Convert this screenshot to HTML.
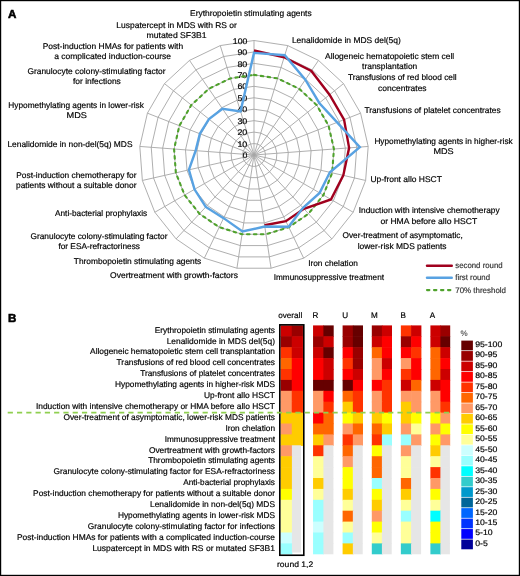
<!DOCTYPE html><html><head><meta charset="utf-8"><style>html,body{margin:0;padding:0;background:#fff}svg{display:block;will-change:transform}text{font-family:"Liberation Sans",sans-serif;fill:#000;stroke:#000;stroke-width:0.18px;text-rendering:geometricPrecision}</style></head><body>
<svg width="520" height="576" viewBox="0 0 520 576">
<rect x="0" y="0" width="520" height="576" fill="#fff"/>
<g stroke="#a6a6a6" stroke-width="0.9"><polygon points="254.00,143.55 257.37,144.06 260.45,145.54 262.95,147.86 264.66,150.82 265.42,154.14 265.16,157.55 263.92,160.72 261.79,163.39 258.97,165.32 255.71,166.32 252.29,166.32 249.03,165.32 246.21,163.39 244.08,160.72 242.84,157.55 242.58,154.14 243.34,150.82 245.05,147.86 247.55,145.54 250.63,144.06" fill="none"/><polygon points="254.00,132.10 260.75,133.12 266.90,136.08 271.90,140.72 275.32,146.63 276.84,153.29 276.33,160.10 273.83,166.45 269.58,171.79 263.94,175.63 257.41,177.64 250.59,177.64 244.06,175.63 238.42,171.79 234.17,166.45 231.67,160.10 231.16,153.29 232.68,146.63 236.10,140.72 241.10,136.08 247.25,133.12" fill="none"/><polygon points="254.00,120.65 264.12,122.18 273.35,126.62 280.86,133.58 285.98,142.45 288.25,152.43 287.49,162.64 283.75,172.18 277.36,180.18 268.90,185.95 259.12,188.97 248.88,188.97 239.10,185.95 230.64,180.18 224.25,172.18 220.51,162.64 219.75,152.43 222.02,142.45 227.14,133.58 234.65,126.62 243.88,122.18" fill="none"/><polygon points="254.00,109.20 267.50,111.23 279.80,117.16 289.81,126.44 296.63,138.27 299.67,151.58 298.65,165.19 293.66,177.90 285.15,188.57 273.87,196.26 260.83,200.29 247.17,200.29 234.13,196.26 222.85,188.57 214.34,177.90 209.35,165.19 208.33,151.58 211.37,138.27 218.19,126.44 228.20,117.16 240.50,111.23" fill="none"/><polygon points="254.00,97.75 270.87,100.29 286.25,107.70 298.76,119.31 307.29,134.08 311.09,150.72 309.81,167.74 303.58,183.62 292.94,196.97 278.84,206.58 262.53,211.61 245.47,211.61 229.16,206.58 215.06,196.97 204.42,183.62 198.19,167.74 196.91,150.72 200.71,134.08 209.24,119.31 221.75,107.70 237.13,100.29" fill="none"/><polygon points="254.00,86.30 274.25,89.35 292.70,98.24 307.71,112.17 317.95,129.90 322.51,149.87 320.98,170.29 313.50,189.35 300.73,205.36 283.81,216.90 264.24,222.93 243.76,222.93 224.19,216.90 207.27,205.36 194.50,189.35 187.02,170.29 185.49,149.87 190.05,129.90 200.29,112.17 215.30,98.24 233.75,89.35" fill="none"/><polygon points="254.00,74.85 277.62,78.41 299.15,88.78 316.66,105.03 328.61,125.72 333.93,149.01 332.14,172.84 323.41,195.07 308.52,213.75 288.78,227.21 265.95,234.25 242.05,234.25 219.22,227.21 199.48,213.75 184.59,195.07 175.86,172.84 174.07,149.01 179.39,125.72 191.34,105.03 208.85,88.78 230.38,78.41" fill="none"/><polygon points="254.00,63.40 281.00,67.47 305.60,79.32 325.62,97.89 339.27,121.53 345.34,148.15 343.30,175.38 333.33,200.80 316.30,222.15 293.74,237.53 267.65,245.58 240.35,245.58 214.26,237.53 191.70,222.15 174.67,200.80 164.70,175.38 162.66,148.15 168.73,121.53 182.38,97.89 202.40,79.32 227.00,67.47" fill="none"/><polygon points="254.00,51.95 284.37,56.53 312.05,69.86 334.57,90.75 349.93,117.35 356.76,147.30 354.47,177.93 343.24,206.52 324.09,230.54 298.71,247.84 269.36,256.90 238.64,256.90 209.29,247.84 183.91,230.54 164.76,206.52 153.53,177.93 151.24,147.30 158.07,117.35 173.43,90.75 195.95,69.86 223.63,56.53" fill="none"/><polygon points="254.00,40.50 287.75,45.59 318.50,60.40 343.52,83.61 360.59,113.17 368.18,146.44 365.63,180.48 353.16,212.25 331.88,238.93 303.68,258.16 271.07,268.22 236.93,268.22 204.32,258.16 176.12,238.93 154.84,212.25 142.37,180.48 139.82,146.44 147.41,113.17 164.48,83.61 189.50,60.40 220.25,45.59" fill="none"/><line x1="254.0" y1="155.0" x2="254.00" y2="40.50"/><line x1="254.0" y1="155.0" x2="287.75" y2="45.59"/><line x1="254.0" y1="155.0" x2="318.50" y2="60.40"/><line x1="254.0" y1="155.0" x2="343.52" y2="83.61"/><line x1="254.0" y1="155.0" x2="360.59" y2="113.17"/><line x1="254.0" y1="155.0" x2="368.18" y2="146.44"/><line x1="254.0" y1="155.0" x2="365.63" y2="180.48"/><line x1="254.0" y1="155.0" x2="353.16" y2="212.25"/><line x1="254.0" y1="155.0" x2="331.88" y2="238.93"/><line x1="254.0" y1="155.0" x2="303.68" y2="258.16"/><line x1="254.0" y1="155.0" x2="271.07" y2="268.22"/><line x1="254.0" y1="155.0" x2="236.93" y2="268.22"/><line x1="254.0" y1="155.0" x2="204.32" y2="258.16"/><line x1="254.0" y1="155.0" x2="176.12" y2="238.93"/><line x1="254.0" y1="155.0" x2="154.84" y2="212.25"/><line x1="254.0" y1="155.0" x2="142.37" y2="180.48"/><line x1="254.0" y1="155.0" x2="139.82" y2="146.44"/><line x1="254.0" y1="155.0" x2="147.41" y2="113.17"/><line x1="254.0" y1="155.0" x2="164.48" y2="83.61"/><line x1="254.0" y1="155.0" x2="189.50" y2="60.40"/><line x1="254.0" y1="155.0" x2="220.25" y2="45.59"/></g>
<text x="247.3" y="158.10" font-size="8.2" text-anchor="end" textLength="4.6" lengthAdjust="spacingAndGlyphs">0</text>
<text x="247.3" y="146.65" font-size="8.2" text-anchor="end" textLength="9.9" lengthAdjust="spacingAndGlyphs">10</text>
<text x="247.3" y="135.20" font-size="8.2" text-anchor="end" textLength="9.9" lengthAdjust="spacingAndGlyphs">20</text>
<text x="247.3" y="123.75" font-size="8.2" text-anchor="end" textLength="9.9" lengthAdjust="spacingAndGlyphs">30</text>
<text x="247.3" y="112.30" font-size="8.2" text-anchor="end" textLength="9.9" lengthAdjust="spacingAndGlyphs">40</text>
<text x="247.3" y="100.85" font-size="8.2" text-anchor="end" textLength="9.9" lengthAdjust="spacingAndGlyphs">50</text>
<text x="247.3" y="89.40" font-size="8.2" text-anchor="end" textLength="9.9" lengthAdjust="spacingAndGlyphs">60</text>
<text x="247.3" y="77.95" font-size="8.2" text-anchor="end" textLength="9.9" lengthAdjust="spacingAndGlyphs">70</text>
<text x="247.3" y="66.50" font-size="8.2" text-anchor="end" textLength="9.9" lengthAdjust="spacingAndGlyphs">80</text>
<text x="247.3" y="55.05" font-size="8.2" text-anchor="end" textLength="9.9" lengthAdjust="spacingAndGlyphs">90</text>
<text x="247.3" y="43.60" font-size="8.2" text-anchor="end" textLength="14.5" lengthAdjust="spacingAndGlyphs">100</text>
<polygon points="254.00,74.85 277.62,78.41 299.15,88.78 316.66,105.03 328.61,125.72 333.93,149.01 332.14,172.84 323.41,195.07 308.52,213.75 288.78,227.21 265.95,234.25 242.05,234.25 219.22,227.21 199.48,213.75 184.59,195.07 175.86,172.84 174.07,149.01 179.39,125.72 191.34,105.03 208.85,88.78 230.38,78.41" fill="none" stroke="#4fa22c" stroke-width="2.1" stroke-dasharray="2.5 4.4" stroke-linecap="round"/>
<polyline points="254.00,50.46 284.14,57.29 311.34,70.90 329.55,94.75 344.06,119.65 349.11,147.87 343.30,175.38 330.95,199.43 303.92,208.80 285.84,221.13 264.58,225.20" fill="none" stroke="#a0001e" stroke-width="2.4" stroke-linejoin="miter"/>
<polygon points="254.00,52.87 284.78,55.22 305.34,79.69 319.26,102.96 337.14,122.37 359.84,147.07 329.91,172.33 319.64,192.90 303.06,207.88 288.58,226.80 264.79,226.56 242.48,231.42 223.60,218.13 205.79,206.96 194.50,189.35 188.92,169.85 195.65,150.63 199.85,133.75 208.97,119.09 222.46,108.74 240.53,111.34" fill="none" stroke="#58a2e2" stroke-width="2.4" stroke-linejoin="miter"/>
<text x="190.10" y="15.75" font-size="8.3" textLength="121.55" lengthAdjust="spacingAndGlyphs">Erythropoietin stimulating agents</text>
<text x="116.30" y="28.20" font-size="8.3" textLength="120.60" lengthAdjust="spacingAndGlyphs">Luspatercept in MDS with RS or</text>
<text x="146.50" y="38.20" font-size="8.3" textLength="60.00" lengthAdjust="spacingAndGlyphs">mutated SF3B1</text>
<text x="42.70" y="49.00" font-size="8.3" textLength="140.40" lengthAdjust="spacingAndGlyphs">Post-induction HMAs for patients with</text>
<text x="54.20" y="58.80" font-size="8.3" textLength="116.80" lengthAdjust="spacingAndGlyphs">a complicated induction-course</text>
<text x="27.40" y="73.50" font-size="8.3" textLength="138.10" lengthAdjust="spacingAndGlyphs">Granulocyte colony-stimulating factor</text>
<text x="73.00" y="83.60" font-size="8.3" textLength="47.80" lengthAdjust="spacingAndGlyphs">for infections</text>
<text x="8.30" y="108.00" font-size="8.3" textLength="135.50" lengthAdjust="spacingAndGlyphs">Hypomethylating agents in lower-risk</text>
<text x="66.50" y="118.00" font-size="8.3" textLength="20.40" lengthAdjust="spacingAndGlyphs">MDS</text>
<text x="7.40" y="147.30" font-size="8.3" textLength="125.10" lengthAdjust="spacingAndGlyphs">Lenalidomide in non-del(5q) MDS</text>
<text x="16.30" y="178.00" font-size="8.3" textLength="120.20" lengthAdjust="spacingAndGlyphs">Post-induction chemotherapy for</text>
<text x="16.00" y="188.00" font-size="8.3" textLength="120.50" lengthAdjust="spacingAndGlyphs">patients without a suitable donor</text>
<text x="55.00" y="215.90" font-size="8.3" textLength="92.20" lengthAdjust="spacingAndGlyphs">Anti-bacterial prophylaxis</text>
<text x="30.50" y="238.90" font-size="8.3" textLength="136.90" lengthAdjust="spacingAndGlyphs">Granulocyte colony-stimulating factor</text>
<text x="58.40" y="248.50" font-size="8.3" textLength="81.60" lengthAdjust="spacingAndGlyphs">for ESA-refractoriness</text>
<text x="73.80" y="264.10" font-size="8.3" textLength="127.40" lengthAdjust="spacingAndGlyphs">Thrombopoietin stimulating agents</text>
<text x="110.10" y="278.30" font-size="8.3" textLength="127.80" lengthAdjust="spacingAndGlyphs">Overtreatment with growth-factors</text>
<text x="291.90" y="42.60" font-size="8.3" textLength="108.90" lengthAdjust="spacingAndGlyphs">Lenalidomide in MDS del(5q)</text>
<text x="325.10" y="58.80" font-size="8.3" textLength="129.10" lengthAdjust="spacingAndGlyphs">Allogeneic hematopoietic stem cell</text>
<text x="362.10" y="69.00" font-size="8.3" textLength="55.20" lengthAdjust="spacingAndGlyphs">transplantation</text>
<text x="347.90" y="79.80" font-size="8.3" textLength="108.80" lengthAdjust="spacingAndGlyphs">Transfusions of red blood cell</text>
<text x="378.10" y="90.50" font-size="8.3" textLength="48.50" lengthAdjust="spacingAndGlyphs">concentrates</text>
<text x="364.40" y="112.80" font-size="8.3" textLength="136.20" lengthAdjust="spacingAndGlyphs">Transfusions of platelet concentrates</text>
<text x="374.40" y="143.80" font-size="8.3" textLength="138.30" lengthAdjust="spacingAndGlyphs">Hypomethylating agents in higher-risk</text>
<text x="433.40" y="154.00" font-size="8.3" textLength="20.20" lengthAdjust="spacingAndGlyphs">MDS</text>
<text x="370.40" y="182.30" font-size="8.3" textLength="71.50" lengthAdjust="spacingAndGlyphs">Up-front allo HSCT</text>
<text x="358.80" y="212.90" font-size="8.3" textLength="140.80" lengthAdjust="spacingAndGlyphs">Induction with intensive chemotherapy</text>
<text x="380.40" y="223.70" font-size="8.3" textLength="96.80" lengthAdjust="spacingAndGlyphs">or HMA before allo HSCT</text>
<text x="342.50" y="238.00" font-size="8.3" textLength="120.20" lengthAdjust="spacingAndGlyphs">Over-treatment of asymptomatic,</text>
<text x="357.70" y="249.00" font-size="8.3" textLength="88.90" lengthAdjust="spacingAndGlyphs">lower-risk MDS patients</text>
<text x="308.20" y="265.80" font-size="8.3" textLength="49.70" lengthAdjust="spacingAndGlyphs">Iron chelation</text>
<text x="273.70" y="279.70" font-size="8.3" textLength="110.30" lengthAdjust="spacingAndGlyphs">Immunosuppressive treatment</text>
<text x="8.0" y="18.1" font-size="11.6" font-weight="bold" style="stroke-width:0.55px">A</text>
<text x="8.0" y="321.8" font-size="11.6" font-weight="bold" style="stroke-width:0.55px">B</text>
<line x1="427" y1="265.7" x2="451.8" y2="265.7" stroke="#a0001e" stroke-width="2.4" stroke-linecap="round"/>
<line x1="427" y1="277.8" x2="451.8" y2="277.8" stroke="#58a2e2" stroke-width="2.4" stroke-linecap="round"/>
<line x1="427" y1="290.1" x2="452.5" y2="290.1" stroke="#4fa22c" stroke-width="2.1" stroke-dasharray="2.4 4.6" stroke-linecap="round"/>
<text x="455.3" y="268.3" font-size="8" textLength="47.300000000000004" lengthAdjust="spacingAndGlyphs" style="fill:#333;stroke:#333">second round</text>
<text x="455.3" y="280.1" font-size="8" textLength="34.7" lengthAdjust="spacingAndGlyphs" style="fill:#333;stroke:#333">first round</text>
<text x="455.3" y="292.7" font-size="8" textLength="50.7" lengthAdjust="spacingAndGlyphs" style="fill:#333;stroke:#333">70% threshold</text>
<text x="275" y="332.60" font-size="8.3" text-anchor="end" textLength="120.30" lengthAdjust="spacingAndGlyphs">Erythropoietin stimulating agents</text>
<text x="275" y="343.50" font-size="8.3" text-anchor="end" textLength="108.30" lengthAdjust="spacingAndGlyphs">Lenalidomide in MDS del(5q)</text>
<text x="275" y="354.40" font-size="8.3" text-anchor="end" textLength="184.90" lengthAdjust="spacingAndGlyphs">Allogeneic hematopoietic stem cell transplantation</text>
<text x="275" y="365.30" font-size="8.3" text-anchor="end" textLength="158.40" lengthAdjust="spacingAndGlyphs">Transfusions of red blood cell concentrates</text>
<text x="275" y="376.20" font-size="8.3" text-anchor="end" textLength="134.80" lengthAdjust="spacingAndGlyphs">Transfusions of platelet concentrates</text>
<text x="275" y="387.10" font-size="8.3" text-anchor="end" textLength="160.00" lengthAdjust="spacingAndGlyphs">Hypomethylating agents in higher-risk MDS</text>
<text x="275" y="398.00" font-size="8.3" text-anchor="end" textLength="71.10" lengthAdjust="spacingAndGlyphs">Up-front allo HSCT</text>
<text x="275" y="408.90" font-size="8.3" text-anchor="end" textLength="239.05" lengthAdjust="spacingAndGlyphs">Induction with intensive chemotherapy or HMA before allo HSCT</text>
<text x="275" y="419.80" font-size="8.3" text-anchor="end" textLength="211.55" lengthAdjust="spacingAndGlyphs">Over-treatment of asymptomatic, lower-risk MDS patients</text>
<text x="275" y="430.70" font-size="8.3" text-anchor="end" textLength="49.60" lengthAdjust="spacingAndGlyphs">Iron chelation</text>
<text x="275" y="441.60" font-size="8.3" text-anchor="end" textLength="110.30" lengthAdjust="spacingAndGlyphs">Immunosuppressive treatment</text>
<text x="275" y="452.50" font-size="8.3" text-anchor="end" textLength="126.10" lengthAdjust="spacingAndGlyphs">Overtreatment with growth-factors</text>
<text x="275" y="463.40" font-size="8.3" text-anchor="end" textLength="126.80" lengthAdjust="spacingAndGlyphs">Thrombopoietin stimulating agents</text>
<text x="275" y="474.30" font-size="8.3" text-anchor="end" textLength="221.40" lengthAdjust="spacingAndGlyphs">Granulocyte colony-stimulating factor for ESA-refractoriness</text>
<text x="275" y="485.20" font-size="8.3" text-anchor="end" textLength="91.80" lengthAdjust="spacingAndGlyphs">Anti-bacterial prophylaxis</text>
<text x="275" y="496.10" font-size="8.3" text-anchor="end" textLength="241.90" lengthAdjust="spacingAndGlyphs">Post-induction chemotherapy for patients without a suitable donor</text>
<text x="275" y="507.00" font-size="8.3" text-anchor="end" textLength="125.00" lengthAdjust="spacingAndGlyphs">Lenalidomide in non-del(5q) MDS</text>
<text x="275" y="517.90" font-size="8.3" text-anchor="end" textLength="157.10" lengthAdjust="spacingAndGlyphs">Hypomethylating agents in lower-risk MDS</text>
<text x="275" y="528.80" font-size="8.3" text-anchor="end" textLength="187.20" lengthAdjust="spacingAndGlyphs">Granulocyte colony-stimulating factor for infections</text>
<text x="275" y="539.70" font-size="8.3" text-anchor="end" textLength="258.00" lengthAdjust="spacingAndGlyphs">Post-induction HMAs for patients with a complicated induction-course</text>
<text x="275" y="550.60" font-size="8.3" text-anchor="end" textLength="182.60" lengthAdjust="spacingAndGlyphs">Luspatercept in MDS with RS or mutated SF3B1</text>
<g><rect x="280.60" y="325.40" width="11.75" height="11.50" fill="#cc0000"/><rect x="291.75" y="325.40" width="11.20" height="11.50" fill="#990000"/><rect x="280.60" y="336.30" width="11.75" height="11.50" fill="#990000"/><rect x="291.75" y="336.30" width="11.20" height="11.50" fill="#cc0000"/><rect x="280.60" y="347.20" width="11.75" height="11.50" fill="#ff3300"/><rect x="291.75" y="347.20" width="11.20" height="11.50" fill="#cc0000"/><rect x="280.60" y="358.10" width="11.75" height="11.50" fill="#ff6600"/><rect x="291.75" y="358.10" width="11.20" height="11.50" fill="#ff0000"/><rect x="280.60" y="369.00" width="11.75" height="11.50" fill="#ff3300"/><rect x="291.75" y="369.00" width="11.20" height="11.50" fill="#ff0000"/><rect x="280.60" y="379.90" width="11.75" height="11.50" fill="#990000"/><rect x="291.75" y="379.90" width="11.20" height="11.50" fill="#ff0000"/><rect x="280.60" y="390.80" width="11.75" height="11.50" fill="#ff9966"/><rect x="291.75" y="390.80" width="11.20" height="11.50" fill="#ff3300"/><rect x="280.60" y="401.70" width="11.75" height="11.50" fill="#ff9966"/><rect x="291.75" y="401.70" width="11.20" height="11.50" fill="#ff3300"/><rect x="280.60" y="412.60" width="11.75" height="11.50" fill="#ffcc00"/><rect x="291.75" y="412.60" width="11.20" height="11.50" fill="#ffcc00"/><rect x="280.60" y="423.50" width="11.75" height="11.50" fill="#ff9966"/><rect x="291.75" y="423.50" width="11.20" height="11.50" fill="#ffcc00"/><rect x="280.60" y="434.40" width="11.75" height="11.50" fill="#ffcc00"/><rect x="291.75" y="434.40" width="11.20" height="11.50" fill="#ffcc00"/><rect x="280.60" y="445.30" width="11.75" height="11.50" fill="#ff9966"/><rect x="291.90" y="445.30" width="9.10" height="11.50" fill="#e6e6e6"/><rect x="280.60" y="456.20" width="11.75" height="11.50" fill="#ffcc00"/><rect x="291.90" y="456.20" width="9.10" height="11.50" fill="#e6e6e6"/><rect x="280.60" y="467.10" width="11.75" height="11.50" fill="#ffcc00"/><rect x="291.90" y="467.10" width="9.10" height="11.50" fill="#e6e6e6"/><rect x="280.60" y="478.00" width="11.75" height="11.50" fill="#ffcc00"/><rect x="291.90" y="478.00" width="9.10" height="11.50" fill="#e6e6e6"/><rect x="280.60" y="488.90" width="11.75" height="11.50" fill="#ffff00"/><rect x="291.90" y="488.90" width="9.10" height="11.50" fill="#e6e6e6"/><rect x="280.60" y="499.80" width="11.75" height="11.50" fill="#ffff99"/><rect x="291.90" y="499.80" width="9.10" height="11.50" fill="#e6e6e6"/><rect x="280.60" y="510.70" width="11.75" height="11.50" fill="#ffff99"/><rect x="291.90" y="510.70" width="9.10" height="11.50" fill="#e6e6e6"/><rect x="280.60" y="521.60" width="11.75" height="11.50" fill="#ffff99"/><rect x="291.90" y="521.60" width="9.10" height="11.50" fill="#e6e6e6"/><rect x="280.60" y="532.50" width="11.75" height="11.50" fill="#ccffff"/><rect x="291.90" y="532.50" width="9.10" height="11.50" fill="#e6e6e6"/><rect x="280.60" y="543.40" width="11.75" height="10.90" fill="#99ffff"/><rect x="291.90" y="543.40" width="9.10" height="9.10" fill="#e6e6e6"/><rect x="313.05" y="325.40" width="10.95" height="11.50" fill="#cc0000"/><rect x="323.40" y="325.40" width="10.30" height="11.50" fill="#660000"/><rect x="313.05" y="336.30" width="10.95" height="11.50" fill="#990000"/><rect x="323.40" y="336.30" width="10.30" height="11.50" fill="#cc0000"/><rect x="313.05" y="347.20" width="10.95" height="11.50" fill="#cc0000"/><rect x="323.40" y="347.20" width="10.30" height="11.50" fill="#660000"/><rect x="313.05" y="358.10" width="10.95" height="11.50" fill="#ff0000"/><rect x="323.40" y="358.10" width="10.30" height="11.50" fill="#cc0000"/><rect x="313.05" y="369.00" width="10.95" height="11.50" fill="#ff0000"/><rect x="323.40" y="369.00" width="10.30" height="11.50" fill="#cc0000"/><rect x="313.05" y="379.90" width="10.95" height="11.50" fill="#660000"/><rect x="323.40" y="379.90" width="10.30" height="11.50" fill="#660000"/><rect x="313.05" y="390.80" width="10.95" height="11.50" fill="#ff9966"/><rect x="323.40" y="390.80" width="10.30" height="11.50" fill="#ff0000"/><rect x="313.05" y="401.70" width="10.95" height="11.50" fill="#ff9966"/><rect x="323.40" y="401.70" width="10.30" height="11.50" fill="#ff3300"/><rect x="313.05" y="412.60" width="10.95" height="11.50" fill="#ff0000"/><rect x="323.40" y="412.60" width="10.30" height="11.50" fill="#ff6600"/><rect x="313.05" y="423.50" width="10.95" height="11.50" fill="#ff6600"/><rect x="323.40" y="423.50" width="10.30" height="11.50" fill="#ff6600"/><rect x="313.05" y="434.40" width="10.95" height="11.50" fill="#ffcc00"/><rect x="323.40" y="434.40" width="10.30" height="11.50" fill="#ff9966"/><rect x="313.05" y="445.30" width="10.95" height="11.50" fill="#ff3300"/><rect x="323.40" y="445.30" width="10.00" height="11.50" fill="#e6e6e6"/><rect x="313.05" y="456.20" width="10.95" height="11.50" fill="#ffff99"/><rect x="323.40" y="456.20" width="10.00" height="11.50" fill="#e6e6e6"/><rect x="313.05" y="467.10" width="10.95" height="11.50" fill="#ffff99"/><rect x="323.40" y="467.10" width="10.00" height="11.50" fill="#e6e6e6"/><rect x="313.05" y="478.00" width="10.95" height="11.50" fill="#ffcc00"/><rect x="323.40" y="478.00" width="10.00" height="11.50" fill="#e6e6e6"/><rect x="313.05" y="488.90" width="10.95" height="11.50" fill="#ffff99"/><rect x="323.40" y="488.90" width="10.00" height="11.50" fill="#e6e6e6"/><rect x="313.05" y="499.80" width="10.95" height="11.50" fill="#99ffff"/><rect x="323.40" y="499.80" width="10.00" height="11.50" fill="#e6e6e6"/><rect x="313.05" y="510.70" width="10.95" height="11.50" fill="#99ffff"/><rect x="323.40" y="510.70" width="10.00" height="11.50" fill="#e6e6e6"/><rect x="313.05" y="521.60" width="10.95" height="11.50" fill="#ccffff"/><rect x="323.40" y="521.60" width="10.00" height="11.50" fill="#e6e6e6"/><rect x="313.05" y="532.50" width="10.95" height="11.50" fill="#99ffff"/><rect x="323.40" y="532.50" width="10.00" height="11.50" fill="#e6e6e6"/><rect x="313.05" y="543.40" width="10.95" height="10.90" fill="#99ffff"/><rect x="323.40" y="543.40" width="10.00" height="10.90" fill="#e6e6e6"/><rect x="342.60" y="325.40" width="10.85" height="11.50" fill="#990000"/><rect x="352.85" y="325.40" width="10.15" height="11.50" fill="#660000"/><rect x="342.60" y="336.30" width="10.85" height="11.50" fill="#990000"/><rect x="352.85" y="336.30" width="10.15" height="11.50" fill="#660000"/><rect x="342.60" y="347.20" width="10.85" height="11.50" fill="#ff0000"/><rect x="352.85" y="347.20" width="10.15" height="11.50" fill="#990000"/><rect x="342.60" y="358.10" width="10.85" height="11.50" fill="#ff3300"/><rect x="352.85" y="358.10" width="10.15" height="11.50" fill="#990000"/><rect x="342.60" y="369.00" width="10.85" height="11.50" fill="#ff0000"/><rect x="352.85" y="369.00" width="10.15" height="11.50" fill="#cc0000"/><rect x="342.60" y="379.90" width="10.85" height="11.50" fill="#660000"/><rect x="352.85" y="379.90" width="10.15" height="11.50" fill="#ff0000"/><rect x="342.60" y="390.80" width="10.85" height="11.50" fill="#ff6600"/><rect x="352.85" y="390.80" width="10.15" height="11.50" fill="#ff3300"/><rect x="342.60" y="401.70" width="10.85" height="11.50" fill="#ffcc00"/><rect x="352.85" y="401.70" width="10.15" height="11.50" fill="#ff3300"/><rect x="342.60" y="412.60" width="10.85" height="11.50" fill="#ffff00"/><rect x="352.85" y="412.60" width="10.15" height="11.50" fill="#ffcc00"/><rect x="342.60" y="423.50" width="10.85" height="11.50" fill="#ff9966"/><rect x="352.85" y="423.50" width="10.15" height="11.50" fill="#ff6600"/><rect x="342.60" y="434.40" width="10.85" height="11.50" fill="#ff3300"/><rect x="352.85" y="434.40" width="10.15" height="11.50" fill="#ff9966"/><rect x="342.60" y="445.30" width="10.85" height="11.50" fill="#ff6600"/><rect x="352.85" y="445.30" width="9.85" height="11.50" fill="#e6e6e6"/><rect x="342.60" y="456.20" width="10.85" height="11.50" fill="#ff9966"/><rect x="352.85" y="456.20" width="9.85" height="11.50" fill="#e6e6e6"/><rect x="342.60" y="467.10" width="10.85" height="11.50" fill="#ffff00"/><rect x="352.85" y="467.10" width="9.85" height="11.50" fill="#e6e6e6"/><rect x="342.60" y="478.00" width="10.85" height="11.50" fill="#ffff00"/><rect x="352.85" y="478.00" width="9.85" height="11.50" fill="#e6e6e6"/><rect x="342.60" y="488.90" width="10.85" height="11.50" fill="#ffcc00"/><rect x="352.85" y="488.90" width="9.85" height="11.50" fill="#e6e6e6"/><rect x="342.60" y="499.80" width="10.85" height="11.50" fill="#ffff99"/><rect x="352.85" y="499.80" width="9.85" height="11.50" fill="#e6e6e6"/><rect x="342.60" y="510.70" width="10.85" height="11.50" fill="#ff6600"/><rect x="352.85" y="510.70" width="9.85" height="11.50" fill="#e6e6e6"/><rect x="342.60" y="521.60" width="10.85" height="11.50" fill="#ffff99"/><rect x="352.85" y="521.60" width="9.85" height="11.50" fill="#e6e6e6"/><rect x="342.60" y="532.50" width="10.85" height="11.50" fill="#99ffff"/><rect x="352.85" y="532.50" width="9.85" height="11.50" fill="#e6e6e6"/><rect x="342.60" y="543.40" width="10.85" height="10.90" fill="#ffcc00"/><rect x="352.85" y="543.40" width="9.85" height="10.90" fill="#e6e6e6"/><rect x="371.80" y="325.40" width="10.70" height="11.50" fill="#990000"/><rect x="381.90" y="325.40" width="10.10" height="11.50" fill="#cc0000"/><rect x="371.80" y="336.30" width="10.70" height="11.50" fill="#cc0000"/><rect x="381.90" y="336.30" width="10.10" height="11.50" fill="#ff0000"/><rect x="371.80" y="347.20" width="10.70" height="11.50" fill="#ff6600"/><rect x="381.90" y="347.20" width="10.10" height="11.50" fill="#ff0000"/><rect x="371.80" y="358.10" width="10.70" height="11.50" fill="#ff9966"/><rect x="381.90" y="358.10" width="10.10" height="11.50" fill="#cc0000"/><rect x="371.80" y="369.00" width="10.70" height="11.50" fill="#ff9966"/><rect x="381.90" y="369.00" width="10.10" height="11.50" fill="#ff0000"/><rect x="371.80" y="379.90" width="10.70" height="11.50" fill="#ff0000"/><rect x="381.90" y="379.90" width="10.10" height="11.50" fill="#ff3300"/><rect x="371.80" y="390.80" width="10.70" height="11.50" fill="#ff9966"/><rect x="381.90" y="390.80" width="10.10" height="11.50" fill="#ff3300"/><rect x="371.80" y="401.70" width="10.70" height="11.50" fill="#ff9966"/><rect x="381.90" y="401.70" width="10.10" height="11.50" fill="#ff3300"/><rect x="371.80" y="412.60" width="10.70" height="11.50" fill="#ffcc00"/><rect x="381.90" y="412.60" width="10.10" height="11.50" fill="#ffff00"/><rect x="371.80" y="423.50" width="10.70" height="11.50" fill="#ff6600"/><rect x="381.90" y="423.50" width="10.10" height="11.50" fill="#ffcc00"/><rect x="371.80" y="434.40" width="10.70" height="11.50" fill="#ff3300"/><rect x="381.90" y="434.40" width="10.10" height="11.50" fill="#99ffff"/><rect x="371.80" y="445.30" width="10.70" height="11.50" fill="#ffff00"/><rect x="381.90" y="445.30" width="9.80" height="11.50" fill="#e6e6e6"/><rect x="371.80" y="456.20" width="10.70" height="11.50" fill="#ff6600"/><rect x="381.90" y="456.20" width="9.80" height="11.50" fill="#e6e6e6"/><rect x="371.80" y="467.10" width="10.70" height="11.50" fill="#ff6600"/><rect x="381.90" y="467.10" width="9.80" height="11.50" fill="#e6e6e6"/><rect x="371.80" y="478.00" width="10.70" height="11.50" fill="#99ffff"/><rect x="381.90" y="478.00" width="9.80" height="11.50" fill="#e6e6e6"/><rect x="371.80" y="488.90" width="10.70" height="11.50" fill="#ffff00"/><rect x="381.90" y="488.90" width="9.80" height="11.50" fill="#e6e6e6"/><rect x="371.80" y="499.80" width="10.70" height="11.50" fill="#ffcc00"/><rect x="381.90" y="499.80" width="9.80" height="11.50" fill="#e6e6e6"/><rect x="371.80" y="510.70" width="10.70" height="11.50" fill="#ff9966"/><rect x="381.90" y="510.70" width="9.80" height="11.50" fill="#e6e6e6"/><rect x="371.80" y="521.60" width="10.70" height="11.50" fill="#ffff00"/><rect x="381.90" y="521.60" width="9.80" height="11.50" fill="#e6e6e6"/><rect x="371.80" y="532.50" width="10.70" height="11.50" fill="#ffff99"/><rect x="381.90" y="532.50" width="9.80" height="11.50" fill="#e6e6e6"/><rect x="371.80" y="543.40" width="10.70" height="10.90" fill="#33cccc"/><rect x="381.90" y="543.40" width="9.80" height="10.90" fill="#e6e6e6"/><rect x="400.85" y="325.40" width="10.85" height="11.50" fill="#ff3300"/><rect x="411.10" y="325.40" width="10.30" height="11.50" fill="#cc0000"/><rect x="400.85" y="336.30" width="10.85" height="11.50" fill="#990000"/><rect x="411.10" y="336.30" width="10.30" height="11.50" fill="#ff0000"/><rect x="400.85" y="347.20" width="10.85" height="11.50" fill="#ff0000"/><rect x="411.10" y="347.20" width="10.30" height="11.50" fill="#ff3300"/><rect x="400.85" y="358.10" width="10.85" height="11.50" fill="#ff9966"/><rect x="411.10" y="358.10" width="10.30" height="11.50" fill="#ff0000"/><rect x="400.85" y="369.00" width="10.85" height="11.50" fill="#ff3300"/><rect x="411.10" y="369.00" width="10.30" height="11.50" fill="#ff0000"/><rect x="400.85" y="379.90" width="10.85" height="11.50" fill="#cc0000"/><rect x="411.10" y="379.90" width="10.30" height="11.50" fill="#ff6600"/><rect x="400.85" y="390.80" width="10.85" height="11.50" fill="#ff9966"/><rect x="411.10" y="390.80" width="10.30" height="11.50" fill="#ff9966"/><rect x="400.85" y="401.70" width="10.85" height="11.50" fill="#ffcc00"/><rect x="411.10" y="401.70" width="10.30" height="11.50" fill="#ff9966"/><rect x="400.85" y="412.60" width="10.85" height="11.50" fill="#ffcc00"/><rect x="411.10" y="412.60" width="10.30" height="11.50" fill="#ffff00"/><rect x="400.85" y="423.50" width="10.85" height="11.50" fill="#ff9966"/><rect x="411.10" y="423.50" width="10.30" height="11.50" fill="#ffff99"/><rect x="400.85" y="434.40" width="10.85" height="11.50" fill="#99ffff"/><rect x="411.10" y="434.40" width="10.30" height="11.50" fill="#ff9966"/><rect x="400.85" y="445.30" width="10.85" height="11.50" fill="#ff9966"/><rect x="411.10" y="445.30" width="10.00" height="11.50" fill="#e6e6e6"/><rect x="400.85" y="456.20" width="10.85" height="11.50" fill="#ffff99"/><rect x="411.10" y="456.20" width="10.00" height="11.50" fill="#e6e6e6"/><rect x="400.85" y="467.10" width="10.85" height="11.50" fill="#ffff99"/><rect x="411.10" y="467.10" width="10.00" height="11.50" fill="#e6e6e6"/><rect x="400.85" y="478.00" width="10.85" height="11.50" fill="#ff6600"/><rect x="411.10" y="478.00" width="10.00" height="11.50" fill="#e6e6e6"/><rect x="400.85" y="488.90" width="10.85" height="11.50" fill="#ffcc00"/><rect x="411.10" y="488.90" width="10.00" height="11.50" fill="#e6e6e6"/><rect x="400.85" y="499.80" width="10.85" height="11.50" fill="#ffff99"/><rect x="411.10" y="499.80" width="10.00" height="11.50" fill="#e6e6e6"/><rect x="400.85" y="510.70" width="10.85" height="11.50" fill="#99ffff"/><rect x="411.10" y="510.70" width="10.00" height="11.50" fill="#e6e6e6"/><rect x="400.85" y="521.60" width="10.85" height="11.50" fill="#ffff99"/><rect x="411.10" y="521.60" width="10.00" height="11.50" fill="#e6e6e6"/><rect x="400.85" y="532.50" width="10.85" height="11.50" fill="#ffff99"/><rect x="411.10" y="532.50" width="10.00" height="11.50" fill="#e6e6e6"/><rect x="400.85" y="543.40" width="10.85" height="10.90" fill="#33cccc"/><rect x="411.10" y="543.40" width="10.00" height="10.90" fill="#e6e6e6"/><rect x="430.40" y="325.40" width="10.60" height="11.50" fill="#cc0000"/><rect x="440.40" y="325.40" width="9.80" height="11.50" fill="#990000"/><rect x="430.40" y="336.30" width="10.60" height="11.50" fill="#cc0000"/><rect x="440.40" y="336.30" width="9.80" height="11.50" fill="#660000"/><rect x="430.40" y="347.20" width="10.60" height="11.50" fill="#ff6600"/><rect x="440.40" y="347.20" width="9.80" height="11.50" fill="#cc0000"/><rect x="430.40" y="358.10" width="10.60" height="11.50" fill="#ff6600"/><rect x="440.40" y="358.10" width="9.80" height="11.50" fill="#ff0000"/><rect x="430.40" y="369.00" width="10.60" height="11.50" fill="#ff6600"/><rect x="440.40" y="369.00" width="9.80" height="11.50" fill="#cc0000"/><rect x="430.40" y="379.90" width="10.60" height="11.50" fill="#cc0000"/><rect x="440.40" y="379.90" width="9.80" height="11.50" fill="#ff0000"/><rect x="430.40" y="390.80" width="10.60" height="11.50" fill="#ff9966"/><rect x="440.40" y="390.80" width="9.80" height="11.50" fill="#ff0000"/><rect x="430.40" y="401.70" width="10.60" height="11.50" fill="#ff9966"/><rect x="440.40" y="401.70" width="9.80" height="11.50" fill="#ff3300"/><rect x="430.40" y="412.60" width="10.60" height="11.50" fill="#ffff00"/><rect x="440.40" y="412.60" width="9.80" height="11.50" fill="#ff9966"/><rect x="430.40" y="423.50" width="10.60" height="11.50" fill="#ff9966"/><rect x="440.40" y="423.50" width="9.80" height="11.50" fill="#ffff00"/><rect x="430.40" y="434.40" width="10.60" height="11.50" fill="#ffff00"/><rect x="440.40" y="434.40" width="9.80" height="11.50" fill="#ff9966"/><rect x="430.40" y="445.30" width="10.60" height="11.50" fill="#ffcc00"/><rect x="440.40" y="445.30" width="9.50" height="11.50" fill="#e6e6e6"/><rect x="430.40" y="456.20" width="10.60" height="11.50" fill="#ffff99"/><rect x="440.40" y="456.20" width="9.50" height="11.50" fill="#e6e6e6"/><rect x="430.40" y="467.10" width="10.60" height="11.50" fill="#ff3300"/><rect x="440.40" y="467.10" width="9.50" height="11.50" fill="#e6e6e6"/><rect x="430.40" y="478.00" width="10.60" height="11.50" fill="#ff9966"/><rect x="440.40" y="478.00" width="9.50" height="11.50" fill="#e6e6e6"/><rect x="430.40" y="488.90" width="10.60" height="11.50" fill="#ffff00"/><rect x="440.40" y="488.90" width="9.50" height="11.50" fill="#e6e6e6"/><rect x="430.40" y="499.80" width="10.60" height="11.50" fill="#ffff99"/><rect x="440.40" y="499.80" width="9.50" height="11.50" fill="#e6e6e6"/><rect x="430.40" y="510.70" width="10.60" height="11.50" fill="#00ffff"/><rect x="440.40" y="510.70" width="9.50" height="11.50" fill="#e6e6e6"/><rect x="430.40" y="521.60" width="10.60" height="11.50" fill="#ffff00"/><rect x="440.40" y="521.60" width="9.50" height="11.50" fill="#e6e6e6"/><rect x="430.40" y="532.50" width="10.60" height="11.50" fill="#ffff00"/><rect x="440.40" y="532.50" width="9.50" height="11.50" fill="#e6e6e6"/><rect x="430.40" y="543.40" width="10.60" height="10.90" fill="#33cccc"/><rect x="440.40" y="543.40" width="9.50" height="10.90" fill="#e6e6e6"/></g>
<rect x="279.8" y="324.85" width="24" height="230.4" fill="none" stroke="#000" stroke-width="1.6"/>
<text x="278.2" y="318.2" font-size="8.1" textLength="24.0" lengthAdjust="spacingAndGlyphs">overall</text>
<text x="312.4" y="318.2" font-size="8.1">R</text>
<text x="342.2" y="318.2" font-size="8.1">U</text>
<text x="371.0" y="318.2" font-size="8.1">M</text>
<text x="400.5" y="318.2" font-size="8.1">B</text>
<text x="429.8" y="318.2" font-size="8.1">A</text>
<text x="277.0" y="566.8" font-size="8.1" textLength="36.2" lengthAdjust="spacingAndGlyphs">round 1,2</text>
<line x1="7.7" y1="412.7" x2="450" y2="412.7" stroke="#8fcf50" stroke-width="1.7" stroke-dasharray="5.2 4.08"/>
<text x="460.5" y="336.3" font-size="8" style="fill:#444;stroke:#444;stroke-width:0.1px">%</text>
<rect x="461.3" y="340.60" width="11.6" height="9.75" fill="#660000"/>
<text x="475.2" y="347.00" font-size="8.0" textLength="27.09" lengthAdjust="spacingAndGlyphs">95-100</text>
<rect x="461.3" y="351.07" width="11.6" height="9.75" fill="#990000"/>
<text x="475.2" y="357.47" font-size="8.0" textLength="22.25" lengthAdjust="spacingAndGlyphs">90-95</text>
<rect x="461.3" y="361.54" width="11.6" height="9.75" fill="#cc0000"/>
<text x="475.2" y="367.94" font-size="8.0" textLength="22.25" lengthAdjust="spacingAndGlyphs">85-90</text>
<rect x="461.3" y="372.01" width="11.6" height="9.75" fill="#ff0000"/>
<text x="475.2" y="378.41" font-size="8.0" textLength="22.25" lengthAdjust="spacingAndGlyphs">80-85</text>
<rect x="461.3" y="382.48" width="11.6" height="9.75" fill="#ff3300"/>
<text x="475.2" y="388.88" font-size="8.0" textLength="22.25" lengthAdjust="spacingAndGlyphs">75-80</text>
<rect x="461.3" y="392.95" width="11.6" height="9.75" fill="#ff6600"/>
<text x="475.2" y="399.35" font-size="8.0" textLength="22.25" lengthAdjust="spacingAndGlyphs">70-75</text>
<rect x="461.3" y="403.42" width="11.6" height="9.75" fill="#ff9966"/>
<text x="475.2" y="409.82" font-size="8.0" textLength="22.25" lengthAdjust="spacingAndGlyphs">65-70</text>
<rect x="461.3" y="413.89" width="11.6" height="9.75" fill="#ffcc00"/>
<text x="475.2" y="420.29" font-size="8.0" textLength="22.25" lengthAdjust="spacingAndGlyphs">60-65</text>
<rect x="461.3" y="424.36" width="11.6" height="9.75" fill="#ffff00"/>
<text x="475.2" y="430.76" font-size="8.0" textLength="22.25" lengthAdjust="spacingAndGlyphs">55-60</text>
<rect x="461.3" y="434.83" width="11.6" height="9.75" fill="#ffff99"/>
<text x="475.2" y="441.23" font-size="8.0" textLength="22.25" lengthAdjust="spacingAndGlyphs">50-55</text>
<rect x="461.3" y="445.30" width="11.6" height="9.75" fill="#ccffff"/>
<text x="475.2" y="451.70" font-size="8.0" textLength="22.25" lengthAdjust="spacingAndGlyphs">45-50</text>
<rect x="461.3" y="455.77" width="11.6" height="9.75" fill="#99ffff"/>
<text x="475.2" y="462.17" font-size="8.0" textLength="22.25" lengthAdjust="spacingAndGlyphs">40-45</text>
<rect x="461.3" y="466.24" width="11.6" height="9.75" fill="#00ffff"/>
<text x="475.2" y="472.64" font-size="8.0" textLength="22.25" lengthAdjust="spacingAndGlyphs">35-40</text>
<rect x="461.3" y="476.71" width="11.6" height="9.75" fill="#33cccc"/>
<text x="475.2" y="483.11" font-size="8.0" textLength="22.25" lengthAdjust="spacingAndGlyphs">30-35</text>
<rect x="461.3" y="487.18" width="11.6" height="9.75" fill="#0099cc"/>
<text x="475.2" y="493.58" font-size="8.0" textLength="22.25" lengthAdjust="spacingAndGlyphs">25-30</text>
<rect x="461.3" y="497.65" width="11.6" height="9.75" fill="#006699"/>
<text x="475.2" y="504.05" font-size="8.0" textLength="22.25" lengthAdjust="spacingAndGlyphs">20-25</text>
<rect x="461.3" y="508.12" width="11.6" height="9.75" fill="#0066ff"/>
<text x="475.2" y="514.52" font-size="8.0" textLength="22.25" lengthAdjust="spacingAndGlyphs">15-20</text>
<rect x="461.3" y="518.59" width="11.6" height="9.75" fill="#0033ff"/>
<text x="475.2" y="524.99" font-size="8.0" textLength="22.25" lengthAdjust="spacingAndGlyphs">10-15</text>
<rect x="461.3" y="529.06" width="11.6" height="9.75" fill="#0000ff"/>
<text x="475.2" y="535.46" font-size="8.0" textLength="17.42" lengthAdjust="spacingAndGlyphs">5-10</text>
<rect x="461.3" y="539.53" width="11.6" height="9.75" fill="#000099"/>
<text x="475.2" y="545.93" font-size="8.0" textLength="12.57" lengthAdjust="spacingAndGlyphs">0-5</text>
<rect x="0.6" y="0.6" width="518.8" height="574.8" fill="none" stroke="#000" stroke-width="1.2"/>
</svg></body></html>
